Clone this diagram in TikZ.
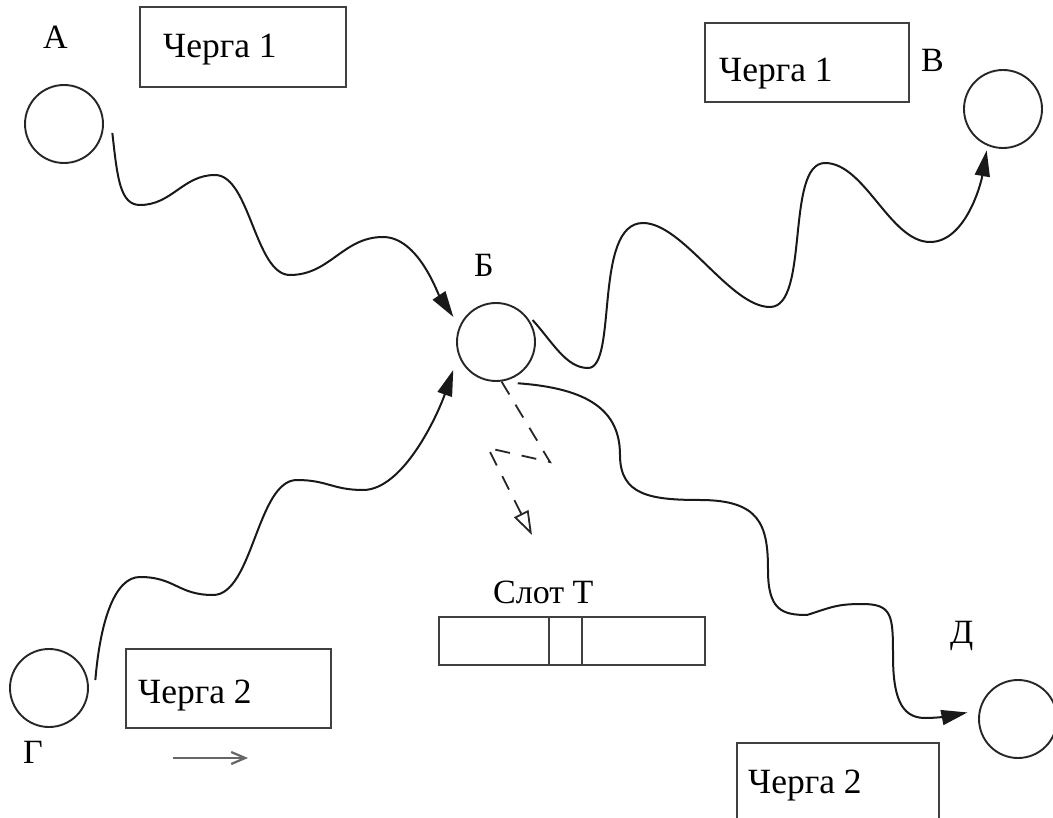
\documentclass[tikz,border=0pt]{standalone}
\usepackage{fontspec}
\setmainfont{Liberation Serif}
\usetikzlibrary{arrows.meta}
\begin{document}
\begin{tikzpicture}[x=1pt,y=-1pt,
  station/.style={circle, draw=black!85, line width=1.9pt, minimum size=78pt, inner sep=0pt},
  qbox/.style={rectangle, draw=black!75, line width=2pt, inner sep=0pt},
  lbl/.style={font=\fontsize{34}{40}\selectfont, inner sep=0pt, anchor=base west},
  qtext/.style={font=\fontsize{35.5}{40}\selectfont, inner sep=0pt, anchor=base west},
  wave/.style={line width=2pt, draw=black!90, -{Triangle[length=26pt,width=15pt]}},
]
\useasboundingbox (0,0) rectangle (1053,818);
\clip (0,0) rectangle (1053,818);
\fill[white] (0,0) rectangle (1053,818);

% stations
\node[station] (A) at (64,124) {};
\node[station] (B) at (496,342) {};
\node[station] (V) at (1003,109) {};
\node[station] (G) at (49,688) {};
\node[station] (D) at (1018,719) {};

% queue boxes
\node[qbox, minimum width=206pt, minimum height=80pt] (qA) at (243,47) {};
\node[qbox, minimum width=204pt, minimum height=79pt] (qV) at (807,62.5) {};
\node[qbox, minimum width=205pt, minimum height=79pt] (qG) at (228.5,688.5) {};
\node[qbox, minimum width=202pt, minimum height=120pt] (qD) at (838,803) {};

\node[qtext] (tA) at (163,58) {Черга 1};
\node[qtext] (tV) at (719,82) {Черга 1};
\node[qtext] (tG) at (138,703) {Черга 2};
\node[qtext] (tD) at (748,793) {Черга 2};

% station labels
\node[lbl] (lA) at (43,49) {А};
\node[lbl] (lB) at (474,277) {Б};
\node[lbl] (lV) at (921,72) {В};
\node[lbl] (lG) at (23,763) {Г};
\node[lbl] (lD) at (950,643) {Д};

% slot
\node[lbl] (lS) at (493,603) {Слот Т};
\node[qbox, minimum width=266pt, minimum height=48pt] (slot) at (572,641) {};
\node[qbox, minimum width=33pt, minimum height=48pt] (cell) at (565.5,641) {};

% direction arrow
\coordinate (s1) at (173,758);
\coordinate (s2) at (248,758);
\draw[line width=2.2pt, black!60, -{Straight Barb[length=14pt,width=12pt]}] (s1) -- (s2);

% connector ends
\coordinate (a0) at ([shift={(9,2)}]A.-10);
\coordinate (a1) at ([shift={(-8,-5)}]B.150);
\coordinate (b0) at ([shift={(2,-2)}]B.30);
\coordinate (b1) at ([shift={(-2,4)}]V.249);
\coordinate (g0) at ([shift={(7,-1)}]G.10);
\coordinate (g1) at ([shift={(-10,5)}]B.215);
\coordinate (d0) at ([shift={(3,6)}]B.-62);
\coordinate (d1) at ([shift={(-11,-1)}]D.172);

% A -> B
\draw[wave] (a0) .. controls +(5,45) and +(-20,0) .. (140,205)
  .. controls +(32,0) and +(-32,0) .. (215,175)
  .. controls +(35,0) and +(-35,0) .. (290,275)
  .. controls +(40,0) and +(-40,0) .. (383,237)
  .. controls +(35,0) and +(-16,-24) .. (a1);
% B -> V
\draw[wave] (b0) .. controls +(20,22) and +(-22,0) .. (588,368)
  .. controls +(30,0) and +(-50,0) .. (643,223)
  .. controls +(40,0) and +(-40,0) .. (770,307)
  .. controls +(40,0) and +(-40,0) .. (825,163)
  .. controls +(40,0) and +(-40,0) .. (930,242)
  .. controls +(35,0) and +(-6,35) .. (b1);
% G -> B
\draw[wave] (g0) .. controls +(5,-60) and +(-25,0) .. (140,577)
  .. controls +(35,0) and +(-35,0) .. (213,595)
  .. controls +(40,0) and +(-40,0) .. (297,480)
  .. controls +(30,0) and +(-30,0) .. (363,490)
  .. controls +(40,0) and +(-16,46) .. (g1);
% B -> D
\draw[wave] (d0) .. controls +(70,5) and +(0,-45) .. (620,455)
  .. controls +(0,40) and +(-50,0) .. (700,500)
  .. controls +(60,0) and +(0,-45) .. (768,570)
  .. controls +(0,40) and +(-25,0) .. (807,615)
  .. controls +(25,-8) and +(-25,0) .. (862,604)
  .. controls +(30,0) and +(0,-40) .. (893,655)
  .. controls +(0,40) and +(-25,0) .. (925,718)
  .. controls +(15,0) and +(-15,3) .. (d1);

% dashed lightning
\coordinate (z1) at (550,462);
\coordinate (z2) at (488,448);
\coordinate (z3) at (532,535);
\draw[line width=1.8pt, black!85, dash pattern=on 15pt off 12pt, -{Triangle[open,length=24pt,width=16pt]}] (B.278) -- (z1) -- (z2) -- (z3);
\end{tikzpicture}
\end{document}
